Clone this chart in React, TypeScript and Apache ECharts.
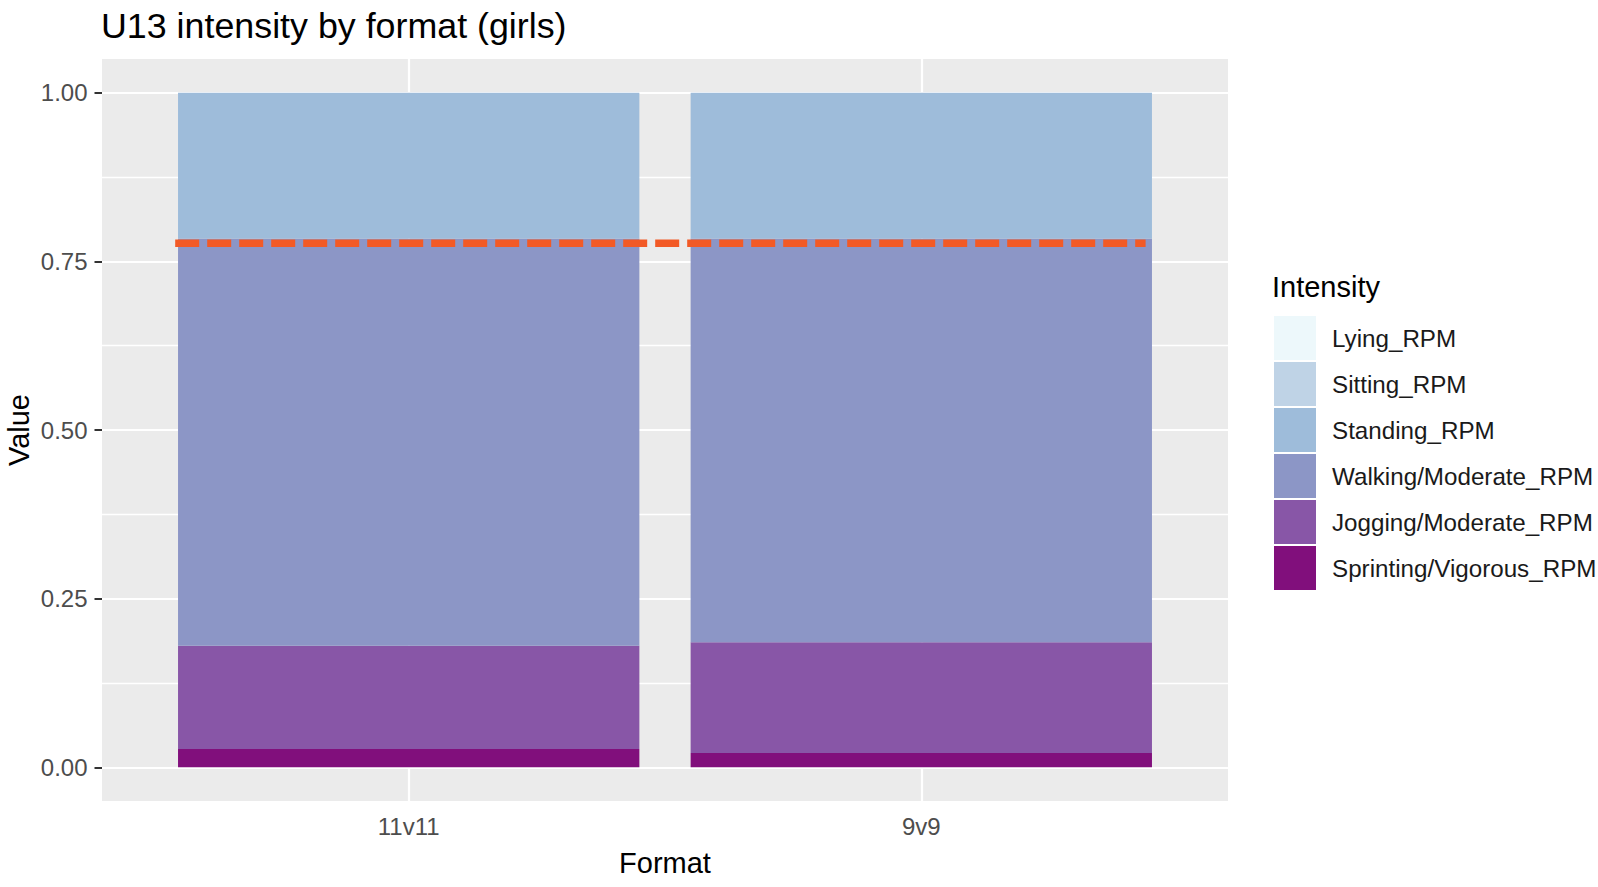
import React, { useEffect, useRef } from "react";
import * as echarts from "echarts";

const formats = ["11v11", "9v9"];
const intensityLevels = [
  "Lying_RPM",
  "Sitting_RPM",
  "Standing_RPM",
  "Walking/Moderate_RPM",
  "Jogging/Moderate_RPM",
  "Sprinting/Vigorous_RPM",
];
const lying = [0, 0];
const sitting = [0, 0];
const standing = [0.216, 0.216];
const walking = [0.604, 0.5985];
const jogging = [0.153, 0.1645];
const sprinting = [0.027, 0.021];
const levelColors = ["#EDF8FB", "#BFD3E6", "#9EBCDA", "#8C96C6", "#8856A7", "#810F7C"];
const yTicks = [0, 0.25, 0.5, 0.75, 1];
const refLineValue = 0.777;
const refLineX = [0.543, 2.439];

const FONT = '"Liberation Sans", Arial, Helvetica, sans-serif';

export default function App() {
  const ref = useRef<HTMLDivElement>(null);
  useEffect(() => {
    if (!ref.current) return;
    const chart = echarts.init(ref.current, null, { renderer: "svg" });
    const valuesByLevel = [lying, sitting, standing, walking, jogging, sprinting];
    // stack bottom-first: reverse order of levels
    const barSeries = intensityLevels
      .map((name, i) => ({
        name,
        type: "bar",
        stack: "total",
        xAxisIndex: 1,
        yAxisIndex: 1,
        barWidth: "90%",
        itemStyle: { color: levelColors[i] },
        emphasis: { disabled: true },
        data: valuesByLevel[i],
        z: 2,
      }))
      .reverse();

    chart.setOption({
      animation: false,
      textStyle: { fontFamily: FONT },
      title: [
        {
          text: "U13 intensity by format (girls)",
          left: 101,
          top: 8,
          padding: 0,
          textStyle: { fontSize: 35.8, fontWeight: "normal", color: "#000", fontFamily: FONT },
        },
        {
          text: "Intensity",
          left: 1272,
          top: 272,
          padding: 0,
          textStyle: { fontSize: 29, fontWeight: "normal", color: "#000", fontFamily: FONT },
        },
      ],
      legend: {
        orient: "vertical",
        left: 1274,
        top: 316,
        padding: 0,
        itemWidth: 42,
        itemHeight: 44,
        itemGap: 2,
        icon: "rect",
        selectedMode: false,
        data: intensityLevels,
        textStyle: { fontSize: 24.2, color: "#1A1A1A", fontFamily: FONT, padding: [0, 0, 0, 11] },
      },
      grid: [
        { left: 102, top: 92.73, width: 1126, height: 674.55, containLabel: false, outerBoundsMode: "none" },
        { left: 152.4, top: 59, width: 1025.2, height: 742, containLabel: false, outerBoundsMode: "none" },
        {
          left: 102,
          top: 59,
          width: 1126,
          height: 742,
          show: true,
          backgroundColor: "#EBEBEB",
          borderWidth: 0,
          z: -1,
          containLabel: false,
          outerBoundsMode: "none",
        },
      ],
      xAxis: [
        { gridIndex: 0, type: "value", min: 0.4, max: 2.6, show: false },
        {
          gridIndex: 1,
          type: "category",
          data: formats,
          axisLine: { show: false },
          axisTick: { show: true, alignWithLabel: true, length: 6.5, lineStyle: { color: "#333333", width: 2 } },
          axisLabel: { color: "#4D4D4D", fontSize: 24, margin: 13, fontFamily: FONT },
          splitLine: { show: false },
          name: "Format",
          nameLocation: "middle",
          nameGap: 47,
          nameMoveOverlap: false,
          nameTextStyle: { fontSize: 29, color: "#000", fontFamily: FONT },
        },
        { gridIndex: 2, type: "value", show: false },
      ],
      yAxis: [
        {
          gridIndex: 0,
          type: "value",
          min: yTicks[0],
          max: yTicks[yTicks.length - 1],
          interval: 0.25,
          axisLine: { show: false },
          axisTick: { show: true, length: 7.5, lineStyle: { color: "#333333", width: 2 } },
          axisLabel: {
            color: "#4D4D4D",
            fontSize: 24,
            margin: 14.5,
            fontFamily: FONT,
            formatter: (v: number) => v.toFixed(2),
          },
          splitLine: { show: true, lineStyle: { color: "#FFFFFF", width: 2.2 } },
          minorTick: { show: false, splitNumber: 2 },
          minorSplitLine: { show: true, lineStyle: { color: "#FFFFFF", width: 1.3 } },
          name: "Value",
          nameLocation: "middle",
          nameGap: 69,
          nameMoveOverlap: false,
          nameRotate: 90,
          nameTextStyle: { fontSize: 29, color: "#000", fontFamily: FONT },
        },
        { gridIndex: 1, type: "value", min: -0.05, max: 1.05, show: false },
        { gridIndex: 2, type: "value", show: false },
      ],
      series: [
        {
          name: "vgrid",
          type: "line",
          xAxisIndex: 1,
          yAxisIndex: 1,
          data: [null, null],
          symbol: "none",
          z: 1,
          silent: true,
          markLine: {
            z: 1,
            silent: true,
            symbol: "none",
            label: { show: false },
            lineStyle: { color: "#FFFFFF", width: 2.2, type: "solid" },
            emphasis: { disabled: true },
            data: formats.map((f) => ({ xAxis: f })),
          },
        },
        ...barSeries,
        {
          name: "ref",
          type: "line",
          xAxisIndex: 0,
          yAxisIndex: 0,
          symbol: "none",
          silent: true,
          z: 5,
          lineStyle: { color: "#F25A26", width: 7.5, type: [24, 8], cap: "butt" },
          data: refLineX.map((x) => [x, refLineValue]),
        },
      ],
    });
    return () => chart.dispose();
  }, []);
  return (
    <div
      ref={ref}
      style={{ position: "fixed", left: 0, top: 0, width: 1598, height: 887, background: "#FFFFFF" }}
    />
  );
}
